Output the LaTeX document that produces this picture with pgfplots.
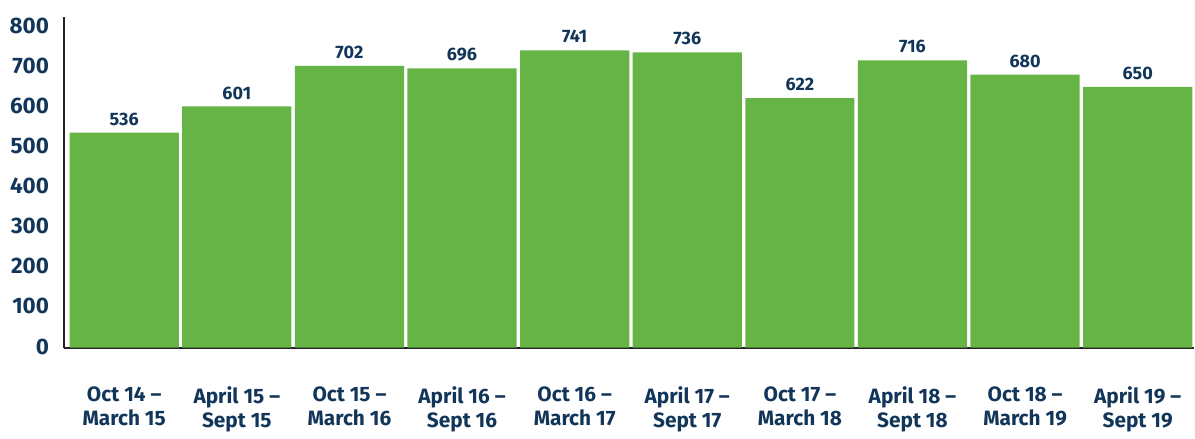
\documentclass[border=0pt]{standalone}
\usepackage{fontspec}
\setmainfont{Fira Sans}
\usepackage{pgfplots}
\pgfplotsset{compat=1.18}
\definecolor{barGreen}{HTML}{66B445}
\definecolor{navy}{HTML}{12365A}
\definecolor{axisDark}{HTML}{222222}

\begin{document}
\begin{tikzpicture}[x=1pt,y=1pt]
\begin{axis}[
    scale only axis,
    width=565pt, height=165.5pt,
    xmin=-0.535, xmax=9.5,
    ymin=0, ymax=825,
    axis x line*=bottom, axis y line*=left,
    axis line style={-, axisDark, line width=1pt},
    major tick length=0pt,
    ytick={0,100,...,800},
    xtick={0,...,9},
    xticklabels={{Oct 14 --\\March 15},{April 15 --\\Sept 15},{Oct 15 --\\March 16},{April 16 --\\Sept 16},{Oct 16 --\\March 17},{April 17 --\\Sept 17},{Oct 17 --\\March 18},{April 18 --\\Sept 18},{Oct 18 --\\March 19},{April 19 --\\Sept 19}},
    /pgf/number format/assume math mode=true,
    yticklabel style={font=\fontsize{11.2}{13}\selectfont\bfseries, text=navy, xshift=-4pt, yshift=0.5pt},
    xticklabel style={font=\fontsize{10.4}{12}\selectfont\bfseries, text=navy, align=center, yshift=-16pt},
    ybar, bar width=0.97, bar shift=0pt,
    nodes near coords,
    every node near coord/.append style={font=\fontsize{9}{11}\selectfont\bfseries, text=navy, yshift=0pt},
    clip=false,
]
\addplot[fill=barGreen, draw=none] coordinates {
 (0,536) (1,601) (2,702) (3,696) (4,741) (5,736) (6,622) (7,716) (8,680) (9,650)};
\end{axis}
\path (current bounding box.north) ++(0,5.5pt);
\path (current bounding box.west) ++(-1.5pt,0);
\end{tikzpicture}
\end{document}
